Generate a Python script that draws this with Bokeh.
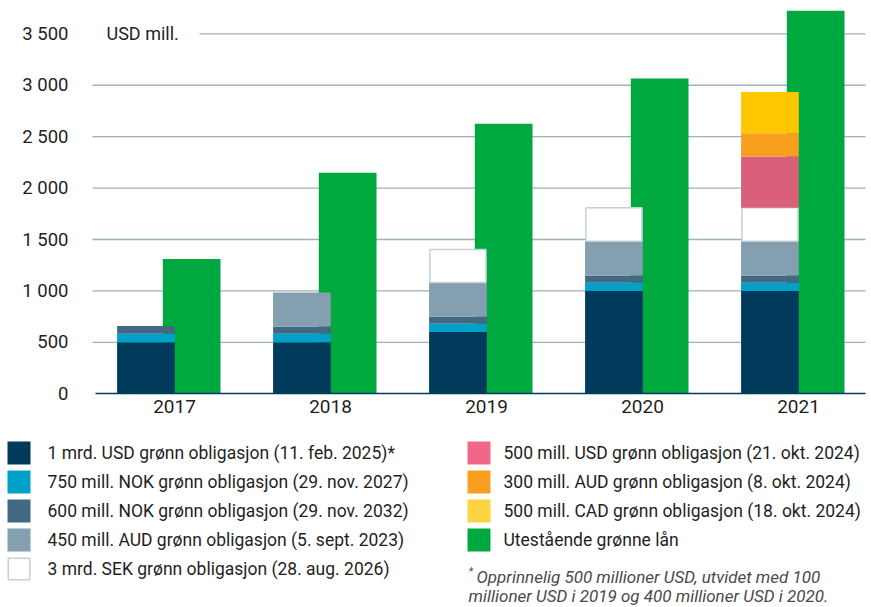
import numpy as np
from bokeh.plotting import figure
from bokeh.models import Range1d, FixedTicker, ColumnDataSource
from bokeh.core.properties import value
from bokeh.embed import file_html
from bokeh.resources import INLINE

# ---------------- data ----------------
years = ["2017", "2018", "2019", "2020", "2021"]
usd_1mrd = [500, 500, 600, 1000, 1000]
nok_750 = [85, 85, 80, 80, 80]
nok_600 = [75, 70, 70, 70, 70]
aud_450 = [0, 330, 333, 333, 333]
sek_3mrd = [0, 0, 320, 325, 325]
usd_500 = [0, 0, 0, 0, 500]
aud_300 = [0, 0, 0, 0, 225]
cad_500 = [0, 0, 0, 0, 400]
green_loans = [1310, 2150, 2625, 3065, 3725]

y_ticks = [0, 500, 1000, 1500, 2000, 2500, 3000, 3500]
y_tick_labels = ["0", "500", "1 000", "1 500", "2 000", "2 500", "3 000", "3 500"]
unit_label = "USD mill."

series_labels = [
    "1 mrd. USD grønn obligasjon (11. feb. 2025)*",
    "750 mill. NOK grønn obligasjon (29. nov. 2027)",
    "600 mill. NOK grønn obligasjon (29. nov. 2032)",
    "450 mill. AUD grønn obligasjon (5. sept. 2023)",
    "3 mrd. SEK grønn obligasjon (28. aug. 2026)",
    "500 mill. USD grønn obligasjon (21. okt. 2024)",
    "300 mill. AUD grønn obligasjon (8. okt. 2024)",
    "500 mill. CAD grønn obligasjon (18. okt. 2024)",
    "Utestående grønne lån",
]
bar_colors = ["#003b5c", "#00a1c9", "#426982", "#839fb0", "#ffffff",
              "#d95f7a", "#f99f1f", "#ffc700", "#00a940"]
legend_colors = ["#003b5c", "#00a1c9", "#426982", "#839fb0", "#ffffff",
                 "#f0678a", "#f99f1f", "#ffd33f", "#00a940"]
footnote_mark = "*"
footnote_lines = ["Opprinnelig 500 millioner USD, utvidet med 100",
                  "millioner USD i 2019 og 400 millioner USD i 2020."]

stack_series = [usd_1mrd, nok_750, nok_600, aud_450, sek_3mrd, usd_500, aud_300, cad_500]

# ---------------- style / layout (page pixels) ----------------
FONT = "Roboto"
TEXT_COLOR = "#1f1f1f"
FOOT_COLOR = "#4a4a4a"
GRID_COLOR = "#9fb1be"
BASE_COLOR = "#003a5c"
SEK_BORDER = "#c5d1d8"

W, H = 871, 607
PLOT_L, PLOT_R, BASE_Y = 92, 865, 393.3
FIRST_CAT_PX = 174
PX_PER_CAT = 156.0
PX_PER_Y = 360.0 / 3500.0
BAR_W = 0.37
STACK_OFF = -0.183
GREEN_OFF = 0.11


def dx(px):   # page pixel -> data x (layout helper)
    return (px - FIRST_CAT_PX) / PX_PER_CAT


def dy(py):   # page pixel -> data y (layout helper)
    return (BASE_Y - py) / PX_PER_Y


p = figure(width=W, height=H, output_backend="svg", toolbar_location=None,
           x_range=Range1d(dx(0), dx(W)), y_range=Range1d(dy(H), dy(0)),
           min_border_left=0, min_border_right=0, min_border_top=0,
           min_border_bottom=0)
p.outline_line_color = None
p.background_fill_color = "white"
p.border_fill_color = "white"
p.grid.visible = False

# y axis (drawn at the chart's left edge)
p.yaxis.fixed_location = dx(PLOT_L)
p.yaxis.ticker = FixedTicker(ticks=y_ticks)
p.yaxis.major_label_overrides = {t: l for t, l in zip(y_ticks, y_tick_labels)}
p.yaxis.axis_line_color = None
p.yaxis.major_tick_line_color = None
p.yaxis.minor_tick_line_color = None
p.yaxis.major_tick_out = 0
p.yaxis.major_tick_in = 0
p.yaxis.major_label_standoff = 24
p.yaxis.major_label_text_font = FONT
p.yaxis.major_label_text_font_size = "18.5px"
p.yaxis.major_label_text_color = TEXT_COLOR

# x axis (baseline at 0)
idx = list(range(len(years)))
p.xaxis.fixed_location = 0
p.xaxis.bounds = (dx(95), dx(PLOT_R))
p.xaxis.ticker = FixedTicker(ticks=idx)
p.xaxis.major_label_overrides = {i: y for i, y in zip(idx, years)}
p.xaxis.axis_line_color = BASE_COLOR
p.xaxis.axis_line_width = 1.5
p.xaxis.major_tick_line_color = None
p.xaxis.minor_tick_line_color = None
p.xaxis.major_tick_out = 0
p.xaxis.major_tick_in = 0
p.xaxis.major_label_standoff = 6
p.xaxis.major_label_text_font = FONT
p.xaxis.major_label_text_font_size = "19px"
p.xaxis.major_label_text_color = TEXT_COLOR

# horizontal grid lines at the y ticks
grid_y = [t for t in y_ticks if t > 0]
p.segment(x0=[dx(PLOT_L)] * len(grid_y), x1=[dx(PLOT_R)] * len(grid_y),
          y0=grid_y, y1=grid_y, line_color=GRID_COLOR, line_width=1.3)

# green loans (behind the stacks)
p.vbar(x=[i + GREEN_OFF for i in idx], top=green_loans, bottom=0, width=BAR_W,
       fill_color=bar_colors[8], line_color=None)

# stacked bonds
bottom = np.zeros(len(years))
for k, s in enumerate(stack_series):
    vals = np.array(s, dtype=float)
    keep = vals > 0
    src = ColumnDataSource(dict(
        x=[i + STACK_OFF for i, kp in zip(idx, keep) if kp],
        bottom=bottom[keep], top=(bottom + vals)[keep]))
    if k == 4:
        p.vbar(x="x", bottom="bottom", top="top", width=BAR_W - 0.01, source=src,
               fill_color=bar_colors[k], line_color=SEK_BORDER, line_width=1.5)
    else:
        p.vbar(x="x", bottom="bottom", top="top", width=BAR_W, source=src,
               fill_color=bar_colors[k], line_color=None)
    bottom = bottom + vals

# unit label, with a white mask over the top grid line
p.quad(left=dx(PLOT_L - 1), right=dx(199), bottom=dy(40), top=dy(27),
       fill_color="white", line_color=None)
p.text(x=[dx(106)], y=[3500], text=[unit_label],
       text_font=value(FONT), text_font_size="18px", text_color=TEXT_COLOR,
       text_baseline="middle", text_align="left")

# ---------------- legend ----------------
SQ = 23
ROW0 = 452.5
ROW_STEP = 29
col_sq = [18.5, 478.5]
col_tx = [47, 503]
for n, (lab, col) in enumerate(zip(series_labels, legend_colors)):
    c = 0 if n < 5 else 1
    r = n if n < 5 else n - 5
    yy = dy(ROW0 + r * ROW_STEP)
    if n == 4:
        p.rect(x=[dx(col_sq[c])], y=[yy], width=SQ - 1.5, height=SQ - 1.5,
               width_units="screen", height_units="screen",
               fill_color=col, line_color=SEK_BORDER, line_width=1.5)
    else:
        p.rect(x=[dx(col_sq[c])], y=[yy], width=SQ, height=SQ,
               width_units="screen", height_units="screen",
               fill_color=col, line_color=None)
    p.text(x=[dx(col_tx[c])], y=[yy], text=[lab], text_font=value(FONT),
           text_font_size="17.5px", text_color=TEXT_COLOR,
           text_baseline="middle")

# footnote
p.text(x=[dx(468)], y=[dy(571)], text=[footnote_mark], text_font=value(FONT),
       text_font_size="11px", text_font_style="italic", text_color=FOOT_COLOR,
       text_baseline="middle")
p.text(x=[dx(476), dx(468)], y=[dy(576), dy(595)], text=footnote_lines,
       text_font=value(FONT), text_font_size="17px",
       text_font_style="italic", text_color=FOOT_COLOR,
       text_baseline="middle")

open("out.html", "w").write(file_html(p, INLINE))
